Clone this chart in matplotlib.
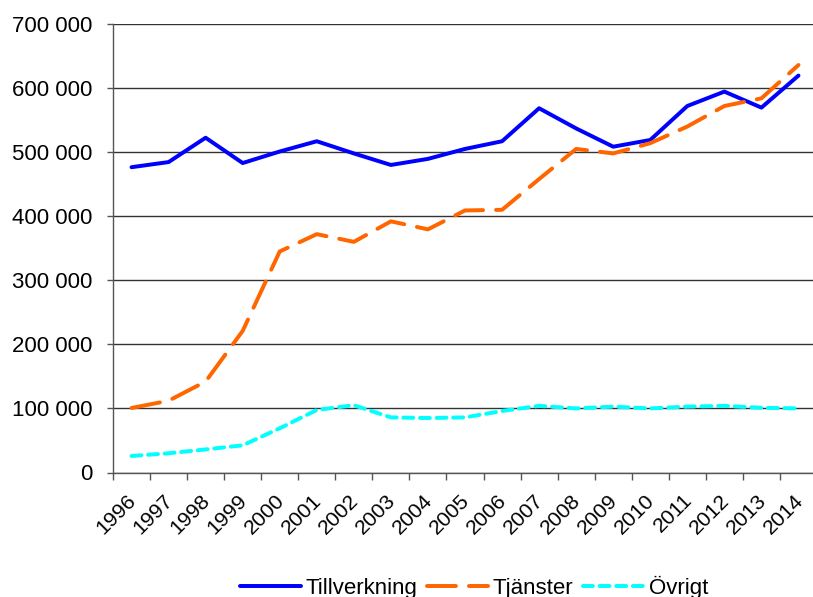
import matplotlib
matplotlib.use("Agg")
import matplotlib.pyplot as plt
from matplotlib.ticker import FixedLocator, FuncFormatter
from matplotlib.transforms import ScaledTranslation

plt.rcParams['font.family'] = ['Liberation Sans', 'DejaVu Sans']

years = [str(y) for y in range(1996, 2015)]
tillverkning = [476500, 484500, 522500, 483000, 501000, 517000, 498000, 480000, 489500, 505000,
                517000, 568500, 537000, 508500, 519000, 572000, 594500, 569500, 619500]
tjanster = [100700, 112000, 142000, 221000, 345000, 372000, 360000, 392000, 379500, 409000,
            410000, 458000, 505000, 498000, 514000, 540000, 572000, 584000, 636000]
ovrigt = [25800, 30000, 36000, 42400, 69000, 97600, 105000, 86000, 85000, 86000,
          96000, 104000, 100000, 102800, 100000, 102800, 104000, 101000, 100000]

W, H = 813, 597
fig = plt.figure(figsize=(W / 100, H / 100), dpi=100)
left, right, top, bottom = 113, 817, 24, 472.5
ax = fig.add_axes([left / W, 1 - bottom / H, (right - left) / W, (bottom - top) / H])

x = list(range(len(years)))
lw = 2.85
ax.plot(x, tillverkning, color='#0000FF', lw=lw, solid_capstyle='round', solid_joinstyle='round',
        label='Tillverkning', zorder=3)
ax.plot(x, tjanster, color='#FF6600', lw=lw, dashes=(7.3, 3.3), dash_capstyle='round',
        label='Tjänster', zorder=3)
ax.plot(x, ovrigt, color='#00FFFF', lw=lw, dashes=(2.5, 1.7), dash_capstyle='round',
        label='Övrigt', zorder=3)

ax.set_xlim(-0.5, len(years) - 0.5)
ax.set_ylim(0, 700000)

ax.yaxis.set_major_locator(FixedLocator([i * 100000 for i in range(8)]))
ax.yaxis.set_major_formatter(FuncFormatter(lambda v, p: f"{int(v):,}".replace(",", " ")))
ax.grid(axis='y', color='#333333', lw=1.0, zorder=1)
ax.set_axisbelow(True)

ax.xaxis.set_major_locator(FixedLocator([i - 0.5 for i in range(len(years) + 1)]))
ax.xaxis.set_major_formatter(FuncFormatter(lambda v, p: ""))
ax.xaxis.set_minor_locator(FixedLocator(x))
ax.set_xticklabels(years, minor=True, rotation=45, ha='right', rotation_mode='anchor', fontsize=15.3)
ax.tick_params(axis='x', which='minor', length=0, pad=13)
ax.tick_params(axis='x', which='major', length=5, width=1, color='#555555', direction='out')
ax.tick_params(axis='y', which='major', length=4.3, width=1, color='#555555', labelsize=16, pad=10.8)
off = ScaledTranslation(-0.05, 0, fig.dpi_scale_trans)
for lab in ax.get_xticklabels(minor=True):
    lab.set_transform(lab.get_transform() + off)

for s in ['top', 'right']:
    ax.spines[s].set_visible(False)
for s in ['left', 'bottom']:
    ax.spines[s].set_color('#555555')
    ax.spines[s].set_linewidth(1.0)

leg = fig.legend(loc='center', bbox_to_anchor=(474 / W, 1 - 587 / H), ncol=3, frameon=False,
                 fontsize=16, handlelength=2.75, handletextpad=0.2, columnspacing=0.45,
                 borderpad=0, borderaxespad=0)

fig.savefig('out.png', dpi=100)
